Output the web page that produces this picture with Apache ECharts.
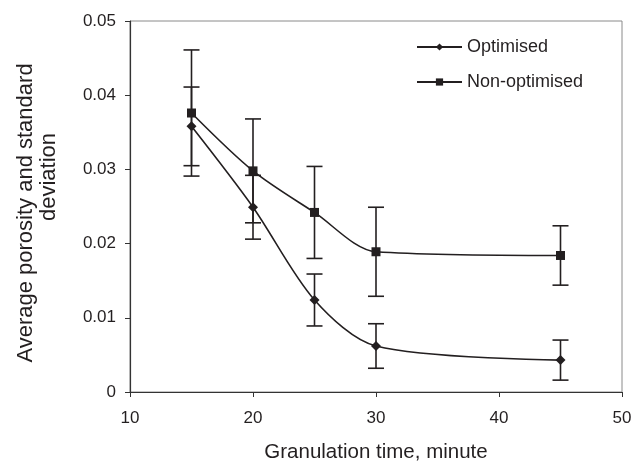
<!DOCTYPE html>
<html><head><meta charset="utf-8">
<script src="https://cdn.jsdelivr.net/npm/echarts@6/dist/echarts.min.js"></script>
<style>html,body{margin:0;padding:0;background:#fff}#c{width:642px;height:463px}</style>
</head><body><div id="c"></div>
<script>
// Data
const times = [15, 20, 25, 30, 45];
const optimisedMean = [0.0358, 0.0249, 0.0124, 0.0062, 0.0043];
const optimisedSD = [0.0053, 0.0043, 0.0035, 0.0030, 0.0027];
const nonOptimisedMean = [0.0376, 0.0298, 0.0242, 0.0189, 0.0184];
const nonOptimisedSD = [0.0085, 0.0070, 0.0062, 0.0060, 0.0040];
const seriesNames = ['Optimised', 'Non-optimised'];
const xAxisTitle = 'Granulation time, minute';
const yAxisTitleLines = ['Average porosity and standard', 'deviation'];

const INK = '#231f20';
const FONT = 'Liberation Sans, Arial, sans-serif';

function pts(means) { return times.map((t, i) => [t, means[i]]); }
function errs(means, sds) { return times.map((t, i) => [t, means[i] - sds[i], means[i] + sds[i]]); }

function errRender(params, api) {
  const x = api.value(0), lo = api.value(1), hi = api.value(2);
  const a = api.coord([x, hi]), b = api.coord([x, lo]);
  const w = 8;
  const st = { stroke: INK, lineWidth: 1.6 };
  return { type: 'group', children: [
    { type: 'line', shape: { x1: a[0], y1: a[1], x2: b[0], y2: b[1] }, style: st },
    { type: 'line', shape: { x1: a[0] - w, y1: a[1], x2: a[0] + w, y2: a[1] }, style: st },
    { type: 'line', shape: { x1: b[0] - w, y1: b[1], x2: b[0] + w, y2: b[1] }, style: st }
  ]};
}

const chart = echarts.init(document.getElementById('c'), null, { renderer: 'canvas' });
chart.setOption({
  backgroundColor: '#fff',
  animation: false,
  textStyle: { fontFamily: FONT, color: INK },
  grid: { left: 130, right: 20, top: 21, bottom: 71, show: true, borderColor: '#8a8a8a', borderWidth: 1,
          containLabel: false, outerBoundsMode: 'none' },
  legend: {
    orient: 'vertical', left: 411, top: 33, itemWidth: 45, itemHeight: 9, itemGap: 17,
    textStyle: { fontSize: 18, color: INK, fontFamily: FONT },
    data: seriesNames
  },
  xAxis: {
    type: 'value', min: 10, max: 50, interval: 10,
    name: xAxisTitle, nameLocation: 'middle', nameGap: 50,
    nameTextStyle: { fontSize: 20.5, color: INK, fontFamily: FONT },
    axisLine: { lineStyle: { color: '#333', width: 1.2 } },
    axisTick: { inside: false, length: 5, lineStyle: { color: '#333' } },
    axisLabel: { fontSize: 17, color: INK, margin: 18, fontFamily: FONT },
    splitLine: { show: false }
  },
  yAxis: {
    type: 'value', min: 0, max: 0.05, interval: 0.01,
    axisLine: { show: true, lineStyle: { color: '#333', width: 1.2 } },
    axisTick: { show: true, inside: false, length: 5, lineStyle: { color: '#333' } },
    axisLabel: { fontSize: 17, color: INK, margin: 14, fontFamily: FONT },
    splitLine: { show: false }
  },
  graphic: [
    { type: 'text', x: 26, y: 213, rotation: Math.PI / 2,
      style: { text: yAxisTitleLines[0], fontSize: 22, fontFamily: FONT, fill: INK, align: 'center', verticalAlign: 'middle' } },
    { type: 'text', x: 49, y: 177, rotation: Math.PI / 2,
      style: { text: yAxisTitleLines[1], fontSize: 22, fontFamily: FONT, fill: INK, align: 'center', verticalAlign: 'middle' } }
  ],
  series: [
    { name: seriesNames[0], type: 'line', data: pts(optimisedMean), smooth: 0.3,
      symbol: 'diamond', symbolSize: 10, itemStyle: { color: INK }, lineStyle: { color: INK, width: 1.6 }, z: 3 },
    { name: seriesNames[1], type: 'line', data: pts(nonOptimisedMean), smooth: 0.3,
      symbol: 'rect', symbolSize: 9, itemStyle: { color: INK }, lineStyle: { color: INK, width: 1.6 }, z: 3 },
    { type: 'custom', data: errs(optimisedMean, optimisedSD), renderItem: errRender, z: 2, silent: true },
    { type: 'custom', data: errs(nonOptimisedMean, nonOptimisedSD), renderItem: errRender, z: 2, silent: true }
  ]
});
</script></body></html>
